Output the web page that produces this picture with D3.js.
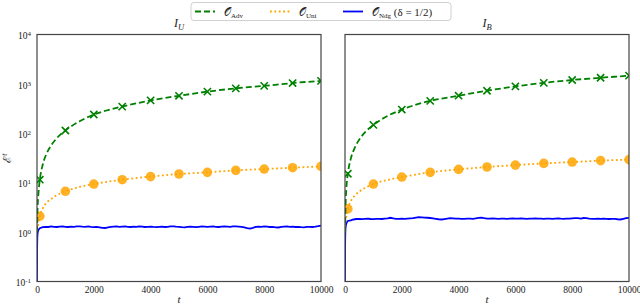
<!DOCTYPE html>
<html>
<head>
<meta charset="utf-8">
<script src="https://cdn.jsdelivr.net/npm/d3@7"></script>
<style>
  body { margin: 0; background: #fff; }
  text { font-family: "Liberation Serif", "DejaVu Serif", serif; fill: #222; }
</style>
</head>
<body>
<svg width="640" height="307"></svg>
<script>
// sample times for the Adv / Uni curves
var tGrid = [0, 20, 50, 100, 200, 350, 500, 700, 1000, 1500, 2000, 2500, 3000, 4000, 5000, 6000, 7000, 8000, 9000, 10000];
var markTimes = [100, 1000, 2000, 3000, 4000, 5000, 6000, 7000, 8000, 9000, 10000];

var advU = [1.0, 3, 6, 11.5, 23, 40, 57, 80, 114, 175, 240, 295, 347, 464, 574, 697, 813, 911, 1040, 1150];
var uniU = [1.1, 1.2, 1.5, 2.1, 3.0, 4.0, 4.7, 5.6, 6.7, 8.2, 9.4, 10.5, 11.5, 13.3, 15.0, 16.2, 17.8, 18.9, 20.1, 21.4];
var advB = [1.0, 3.5, 8, 15.2, 30, 52, 74, 104, 148, 225, 302, 380, 454, 577, 727, 890, 1050, 1200, 1330, 1470];
var uniB = [1.3, 1.6, 2.1, 2.95, 4.2, 5.5, 6.6, 7.8, 9.4, 11.4, 13.0, 14.6, 16.2, 18.6, 20.8, 22.7, 24.6, 26.2, 28.0, 29.3];

// Ndg curve: dense start then every 100 steps
var ndgT = [0, 5, 10, 20, 40, 70, 100].concat(d3.range(200, 10001, 100));
var ndgU = [0.1, 0.5, 0.75, 0.95, 1.08, 1.15, 1.2,
  1.26,1.28,1.27,1.30,1.28,1.27,1.29,1.30,1.28,
  1.27,1.29,1.28,1.30,1.31,1.29,1.28,1.30,1.27,1.26,
  1.27,1.25,1.22,1.21,1.25,1.28,1.29,1.30,1.28,1.29,
  1.30,1.28,1.27,1.29,1.28,1.30,1.29,1.27,1.28,1.29,
  1.27,1.26,1.28,1.29,1.27,1.28,1.30,1.31,1.29,1.28,
  1.26,1.25,1.27,1.29,1.28,1.26,1.28,1.30,1.29,1.28,
  1.29,1.30,1.28,1.27,1.29,1.30,1.29,1.28,1.30,1.31,
  1.29,1.27,1.25,1.20,1.18,1.22,1.27,1.29,1.28,1.30,
  1.29,1.27,1.28,1.25,1.24,1.27,1.29,1.30,1.28,1.29,
  1.27,1.28,1.26,1.25,1.27,1.28,1.27,1.29,1.32,1.36];
var ndgB = [0.1, 0.6, 0.95, 1.25, 1.45, 1.6, 1.68,
  1.72,1.80,1.84,1.86,1.83,1.85,1.87,1.84,1.83,
  1.85,1.86,1.84,1.87,1.90,1.95,1.90,1.86,1.85,1.87,
  1.86,1.88,1.90,1.92,1.97,2.00,1.98,1.96,1.95,1.93,
  1.90,1.86,1.82,1.80,1.84,1.88,1.92,1.90,1.87,1.88,
  1.86,1.85,1.88,1.87,1.86,1.90,1.95,1.97,1.92,1.88,
  1.87,1.89,1.88,1.86,1.88,1.87,1.85,1.88,1.89,1.88,
  1.87,1.89,1.88,1.86,1.88,1.87,1.89,1.88,1.87,1.86,
  1.88,1.87,1.86,1.88,1.89,1.87,1.86,1.88,1.87,1.90,
  1.92,1.91,1.88,1.93,1.91,1.87,1.86,1.85,1.87,1.86,
  1.87,1.85,1.84,1.86,1.85,1.82,1.80,1.86,1.92,1.95];

var xTicks = [0, 2000, 4000, 6000, 8000, 10000];
var yTicks = [1e-1, 1e0, 1e1, 1e2, 1e3, 1e4];

var panels = [
  { title: 'I', sub: 'U', x0: 37, x1: 321, adv: advU, uni: uniU, ndg: ndgU, yAxis: true },
  { title: 'I', sub: 'B', x0: 345, x1: 629, adv: advB, uni: uniB, ndg: ndgB, yAxis: false }
];

var svg = d3.select('svg');
var yTop = 34.5, yBottom = 281.5;

var y = d3.scaleLog().domain([1e-1, 1e4]).range([yBottom, yTop]);

panels.forEach((p, k) => {
  var x = d3.scaleLinear().domain([0, 10000]).range([p.x0, p.x1]);
  var g = svg.append('g');

  svg.append('clipPath').attr('id', 'clip' + k)
    .append('rect').attr('x', p.x0).attr('y', yTop).attr('width', p.x1 - p.x0).attr('height', yBottom - yTop);

  var plot = g.append('g').attr('clip-path', 'url(#clip' + k + ')');

  var line = d3.line()
    .x((d) => x(d[0]))
    .y((d) => y(d[1]));

  // Ndg
  plot.append('path')
    .datum(ndgT.map((t, i) => [t, p.ndg[i]]))
    .attr('d', line)
    .attr('fill', 'none').attr('stroke', 'blue').attr('stroke-width', 1.8);

  // Uni
  plot.append('path')
    .datum(tGrid.map((t, i) => [t, p.uni[i]]))
    .attr('d', line.curve(d3.curveMonotoneX))
    .attr('fill', 'none').attr('stroke', 'orange').attr('stroke-width', 1.8)
    .attr('stroke-dasharray', '1.8,2.6');

  plot.selectAll('circle.uni')
    .data(markTimes)
    .enter().append('circle')
    .attr('class', 'uni')
    .attr('cx', (t) => x(t))
    .attr('cy', (t) => y(p.uni[tGrid.indexOf(t)]))
    .attr('r', 4.8)
    .attr('fill', 'orange').attr('fill-opacity', 0.85);

  // Adv
  plot.append('path')
    .datum(tGrid.map((t, i) => [t, p.adv[i]]))
    .attr('d', line.curve(d3.curveMonotoneX))
    .attr('fill', 'none').attr('stroke', 'green').attr('stroke-width', 1.8)
    .attr('stroke-dasharray', '6,3');

  plot.selectAll('path.mark')
    .data(markTimes)
    .enter().append('path')
    .attr('class', 'mark')
    .attr('transform', (t) => 'translate(' + x(t) + ',' + y(p.adv[tGrid.indexOf(t)]) + ')')
    .attr('d', 'M-3.6,-3.6L3.6,3.6M-3.6,3.6L3.6,-3.6')
    .attr('stroke', 'green').attr('stroke-width', 1.6);

  // frame
  g.append('rect')
    .attr('x', p.x0).attr('y', yTop)
    .attr('width', p.x1 - p.x0).attr('height', yBottom - yTop)
    .attr('fill', 'none').attr('stroke', '#444').attr('stroke-width', 1.2);

  // x axis
  var xa = g.append('g')
    .attr('transform', 'translate(0,' + yBottom + ')')
    .call(d3.axisBottom(x).tickValues(xTicks).tickSize(0).tickPadding(5).tickFormat(d3.format('d')));
  xa.select('.domain').remove();
  xa.selectAll('text').style('font-size', '9.5px').style('font-family', '"Liberation Serif", serif');

  // y axis
  if (p.yAxis) {
    var ya = g.append('g')
      .attr('transform', 'translate(' + p.x0 + ',0)')
      .call(d3.axisLeft(y).tickValues(yTicks).tickSize(0).tickPadding(6).tickFormat(''));
    ya.select('.domain').remove();
    ya.selectAll('.tick text').each(function (d) {
      var t = d3.select(this).text(null)
        .style('font-size', '9.5px').style('font-family', '"Liberation Serif", serif')
        .attr('dy', '0.45em');
      t.append('tspan').text('10');
      t.append('tspan').attr('dy', '-0.45em').style('font-size', '7px').text(Math.round(Math.log10(d)));
    });
  }

  // title
  var tt = g.append('text')
    .attr('x', (p.x0 + p.x1) / 2).attr('y', 27)
    .attr('text-anchor', 'middle')
    .style('font-size', '12px').style('font-style', 'italic');
  tt.append('tspan').text(p.title);
  tt.append('tspan').attr('dy', '3').style('font-size', '8.5px').text(p.sub);

  // x label
  g.append('text')
    .attr('x', (p.x0 + p.x1) / 2).attr('y', 303)
    .attr('text-anchor', 'middle')
    .style('font-size', '11px').style('font-style', 'italic')
    .text('t');
});

// y label
var yl = svg.append('text')
  .attr('transform', 'translate(11,158) rotate(-90)')
  .attr('text-anchor', 'middle')
  .style('font-size', '11px');
yl.append('tspan').text('ℰ');
yl.append('tspan').attr('dy', '-4').style('font-size', '8px').style('font-style', 'italic').text('t');

// legend
var legendItems = [
  { sub: 'Adv', extra: '', color: 'green', dash: '6,3', x: 195 },
  { sub: 'Uni', extra: '', color: 'orange', dash: '1.8,2.6', x: 270 },
  { sub: 'Ndg', extra: ' (δ = 1/2)', color: 'blue', dash: null, x: 343 }
];

var lg = svg.append('g');
lg.append('rect')
  .attr('x', 191).attr('y', 2.5).attr('width', 260).attr('height', 18).attr('rx', 3)
  .attr('fill', '#fff').attr('stroke', '#d0d0d0').attr('stroke-width', 1);

legendItems.forEach((d) => {
  lg.append('line')
    .attr('x1', d.x).attr('x2', d.x + 20).attr('y1', 11.5).attr('y2', 11.5)
    .attr('stroke', d.color).attr('stroke-width', 1.8)
    .attr('stroke-dasharray', d.dash);
  var t = lg.append('text').attr('x', d.x + 29).attr('y', 15.5).style('font-size', '11px');
  t.append('tspan').text('𝒪');
  t.append('tspan').attr('dy', '2').style('font-size', '7px').text(d.sub);
  if (d.extra) t.append('tspan').attr('dy', '-2').text(d.extra);
});
</script>
</body>
</html>
